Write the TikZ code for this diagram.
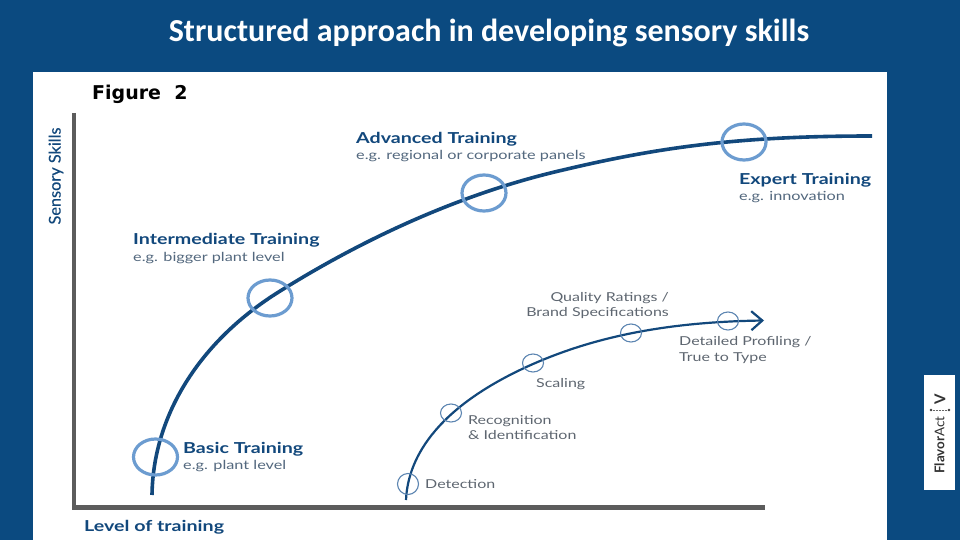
\documentclass[tikz,border=0pt]{standalone}
\usepackage{fontspec}
\usetikzlibrary{arrows.meta,shapes.geometric}
\setmainfont{Carlito}
\newfontfamily\figfont[FakeStretch=1.3]{Lato}
\newfontfamily\yfont[FakeBold=0.3]{Lato}
\newfontfamily\logofont{Lato}
\newfontfamily\figtitle{DejaVu Sans}
\definecolor{bg}{HTML}{0B4A80}
\definecolor{curve}{HTML}{12487C}
\definecolor{ring}{HTML}{6C9CD0}
\definecolor{axisgrey}{HTML}{5C5C5C}
\definecolor{txtgrey}{HTML}{5E6670}
\definecolor{sub}{HTML}{53687E}
\tikzset{
  head/.style={inner sep=0pt,anchor=west,align=left,font=\figfont\fontsize{15.1}{16}\selectfont\bfseries\color{curve}},
  subhead/.style={inner sep=0pt,anchor=west,align=left,font=\figfont\fontsize{12.5}{14}\selectfont\color{sub}},
  step label/.style={inner sep=0pt,anchor=west,align=left,font=\figfont\fontsize{12.3}{15.5}\selectfont\color{txtgrey}},
  bigring/.style={ellipse,draw=ring,line width=3.2pt,minimum width=44pt,minimum height=36pt,inner sep=0pt},
  smallring/.style={ellipse,draw=ring!85!black,line width=1.1pt,minimum width=21pt,minimum height=18pt,inner sep=0pt},
  axisline/.style={draw=axisgrey,line width=4.5pt},
  maincurve/.style={draw=curve,line width=3.6pt},
  stepcurve/.style={draw=curve,line width=2.2pt}
}
\begin{document}
\begin{tikzpicture}[x=1pt,y=-1pt]
\useasboundingbox (0,0) rectangle (960,540);
\fill[bg] (0,0) rectangle (960,540);
\fill[white] (33,72) rectangle (887,540);
\node[inner sep=0pt,text=white,font=\fontsize{32}{34}\selectfont\bfseries] (title) at (489,33) {Structured approach in developing sensory skills};
\node[inner sep=0pt,anchor=west,text=black,font=\figtitle\fontsize{19}{20}\selectfont\bfseries] (fig) at (92,94) {Figure\ \ 2};
% axes
\coordinate (top) at (74,113);
\coordinate (corner) at (74,507.5);
\coordinate (right) at (765,507.5);
\draw[axisline,line join=miter] (top) -- (corner) -- (right);
\node[rotate=90,inner sep=0pt,font=\yfont\fontsize{16.3}{18}\selectfont\color{curve}] (ylab) at (56,176) {Sensory Skills};
\node[head] (xlab) at (84,527.5) {Level of training};
% main curve
\coordinate (m0) at (152,495);
\coordinate (m1) at (277,293);
\coordinate (m2) at (563,170);
\coordinate (m3) at (872,136);
\draw[maincurve] (m0) .. controls (153,420) and (195,345) .. (m1)
  .. controls (350,247) and (450,196) .. (m2)
  .. controls (660,147) and (740,136) .. (m3);
\node[bigring] (r1) at (155.5,457) {};
\node[bigring] (r2) at (270,298) {};
\node[bigring] (r3) at (484,193) {};
\node[bigring] (r4) at (744,142) {};
% step curve
\coordinate (s0) at (406,500);
\coordinate (s3) at (533,364);
\coordinate (s6) at (764,320.5);
\draw[stepcurve,-{Straight Barb[length=11pt,width=19pt,line width=2.2pt]}] (s0) .. controls (408,455) and (440,405) .. (s3)
  .. controls (590,339) and (660,322) .. (s6);
\node[smallring,minimum height=21pt] (c1) at (408,484) {};
\node[smallring] (c2) at (451,413) {};
\node[smallring] (c3) at (533,363) {};
\node[smallring] (c4) at (631,333) {};
\node[smallring] (c5) at (728,321) {};
% main labels
\node[head] (a1) at (356,139.5) {Advanced Training};
\node[subhead] (a2) at (356,156) {e.g. regional or corporate panels};
\node[head] (e1) at (739,180.5) {Expert Training};
\node[subhead] (e2) at (739,197) {e.g. innovation};
\node[head] (i1) at (133,240.5) {Intermediate Training};
\node[subhead] (i2) at (133,258) {e.g. bigger plant level};
\node[head] (b1) at (183,449.5) {Basic Training};
\node[subhead] (b2) at (183,466) {e.g. plant level};
% step labels
\node[step label,anchor=north east,align=right] (q) at (669,292) {Quality Ratings /\\Brand Specifications};
\node[step label,anchor=north west] (d) at (679,336.5) {Detailed Profiling /\\True to Type};
\node[step label] (sc) at (536,384.5) {Scaling};
\node[step label,anchor=north west] (rc) at (468,415) {Recognition\\\&\ Identification};
\node[step label] (de) at (425,484) {Detection};
% logo
\fill[white] (924,375) rectangle (955,490);
\node[rotate=90,inner sep=0pt,anchor=west,text=black!80,font=\logofont\fontsize{13.4}{14}\selectfont] (logo) at (939.5,474) {\textbf{Flavor}Act};
\node[rotate=90,inner sep=0pt,text=black!80,font=\logofont\fontsize{15}{16}\selectfont\bfseries] (logov) at (940,399.5) {V};
\coordinate (dl) at (931,410);
\coordinate (dr) at (949,410);
\draw[black!60,line width=0.5pt,densely dotted] (dl) -- (dr);
\fill[black!75] (dl) circle (1.4pt) (dr) circle (1.4pt);
\end{tikzpicture}
\end{document}
